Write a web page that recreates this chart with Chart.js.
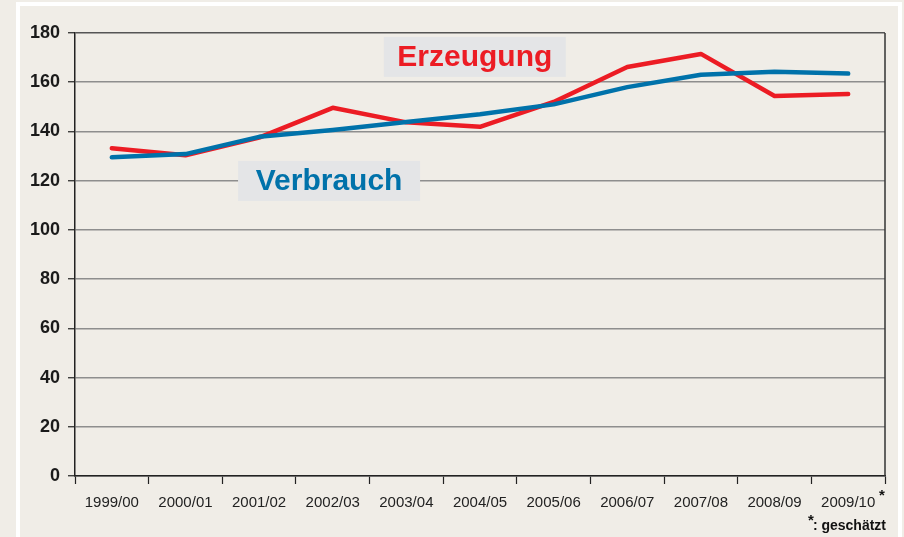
<!DOCTYPE html>
<html>
<head>
<meta charset="utf-8">
<script src="https://cdn.jsdelivr.net/npm/chart.js@4/dist/chart.umd.min.js"></script>
<style>
  html, body { margin: 0; padding: 0; background: #f0ede7; }
  #wrap { width: 904px; height: 537px; position: relative; }
</style>
</head>
<body>
<div id="wrap"><canvas id="chart" width="904" height="537"></canvas></div>
<script>
// values
var seasons = ['1999/00', '2000/01', '2001/02', '2002/03', '2003/04', '2004/05',
               '2005/06', '2006/07', '2007/08', '2008/09', '2009/10'];
var erzeugung = [133.2, 130.3, 137.5, 149.6, 143.7, 141.9, 152.0, 166.2, 171.5, 154.4, 155.2];
var verbrauch = [129.5, 130.8, 137.8, 140.6, 143.8, 147.0, 151.0, 158.0, 163.0, 164.3, 163.5];
var yTicks = [0, 20, 40, 60, 80, 100, 120, 140, 160, 180];

var red = '#ec1c24';
var blue = '#0072aa';
var fontFam = '"Liberation Sans", Arial, Helvetica, sans-serif';

// backdrop with the white frame, plot border, labels and footnote
var decor = {
  id: 'decor',
  beforeDraw: function (chart) {
    var c = chart.ctx;
    c.save();
    c.fillStyle = '#f0ede7';
    c.fillRect(0, 0, chart.width, chart.height);
    c.strokeStyle = '#ffffff';
    c.lineWidth = 4;
    c.strokeRect(18, 4, 882, chart.height + 20);
    c.restore();
  },
  afterDatasetsDraw: function (chart) {
    var c = chart.ctx;
    var a = chart.chartArea;
    var xs = chart.scales.x, ys = chart.scales.y;
    c.save();
    // right border of the plot
    c.strokeStyle = '#333333';
    c.lineWidth = 1.5;
    c.beginPath();
    c.moveTo(a.right, a.top);
    c.lineTo(a.right, a.bottom);
    c.stroke();

    var boxes = [
      { text: 'Erzeugung', color: red, x: 4.93, y: 170.3 },
      { text: 'Verbrauch', color: blue, x: 2.95, y: 119.9 }
    ];
    c.font = 'bold 30px ' + fontFam;
    c.textAlign = 'center';
    c.textBaseline = 'middle';
    boxes.forEach(function (b) {
      var px = xs.getPixelForValue(b.x);
      var py = ys.getPixelForValue(b.y);
      c.fillStyle = '#e4e5e7';
      c.fillRect(px - 91, py - 20, 182, 40);
      c.fillStyle = b.color;
      c.fillText(b.text, px, py + 1);
    });

    // star after the last season and the footnote
    c.fillStyle = '#111111';
    c.textAlign = 'left';
    c.textBaseline = 'alphabetic';
    c.font = 'bold 15px ' + fontFam;
    c.fillText('*', a.right - 6, a.bottom + 24);
    c.textAlign = 'right';
    c.font = 'bold 14px ' + fontFam;
    var note = ': geschätzt';
    c.fillText(note, a.right + 1, a.bottom + 54);
    var w = c.measureText(note).width;
    c.font = 'bold 15px ' + fontFam;
    c.fillText('*', a.right + 1 - w + 1, a.bottom + 49);
    c.restore();
  }
};

var ctx = document.getElementById('chart').getContext('2d');
new Chart(ctx, {
  type: 'line',
  data: {
    labels: seasons,
    datasets: [
      {
        label: 'Erzeugung',
        data: erzeugung,
        borderColor: red,
        borderWidth: 4.5,
        pointRadius: 0,
        tension: 0,
        borderCapStyle: 'round',
        borderJoinStyle: 'round',
        order: 2
      },
      {
        label: 'Verbrauch',
        data: verbrauch,
        borderColor: blue,
        borderWidth: 4.5,
        pointRadius: 0,
        tension: 0,
        borderCapStyle: 'round',
        borderJoinStyle: 'round',
        order: 1
      }
    ]
  },
  options: {
    responsive: false,
    animation: false,
    events: [],
    layout: { padding: { top: 33, right: 19, left: 0, bottom: 0 } },
    scales: {
      x: {
        type: 'category',
        offset: true,
        grid: {
          offset: true,
          drawOnChartArea: false,
          drawTicks: true,
          tickLength: 8,
          tickColor: '#222222',
          tickWidth: 1.2
        },
        border: { color: '#222222', width: 1.5 },
        ticks: {
          color: '#222222',
          padding: 10,
          maxRotation: 0,
          autoSkip: false,
          font: { family: fontFam, size: 15 }
        },
        afterFit: function (s) { s.height = 61; }
      },
      y: {
        min: 0,
        max: 180,
        afterBuildTicks: function (s) {
          s.ticks = yTicks.map(function (v) { return { value: v }; });
        },
        grid: {
          color: function (c) {
            return c.tick && c.tick.value === 180 ? '#555555' : '#8e8e8e';
          },
          lineWidth: 1.5,
          tickLength: 7,
          tickColor: '#222222',
          tickWidth: 1.2
        },
        border: { color: '#222222', width: 1.5 },
        ticks: {
          color: '#1a1a1a',
          padding: 8,
          font: { family: fontFam, size: 18, weight: 'bold' }
        },
        afterFit: function (s) { s.width = 75; }
      }
    },
    plugins: {
      legend: { display: false },
      tooltip: { enabled: false }
    }
  },
  plugins: [decor]
});
</script>
</body>
</html>
